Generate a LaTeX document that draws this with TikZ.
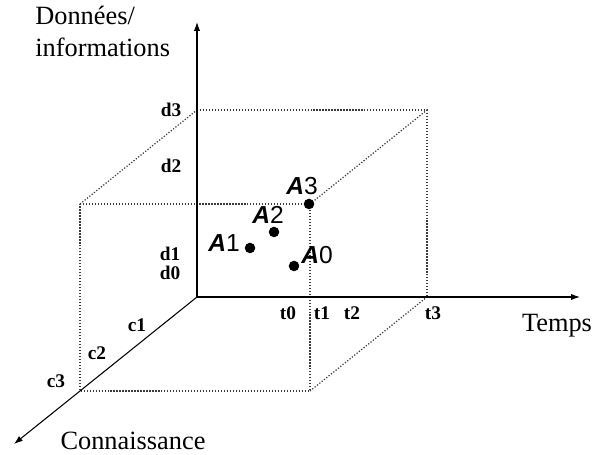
\documentclass[tikz,border=0pt]{standalone}
\usepackage{fontspec}
\setmainfont{Liberation Serif}
\setsansfont{Liberation Sans}
\usepackage{tikz}
\definecolor{edgeGray}{RGB}{60, 60, 60}

\tikzset{
  axis/.style={line width=0.6pt, -{Latex[length=5pt,width=3.5pt]}},
  hidden/.style={edgeGray, line width=0.7pt, densely dotted},
  tick/.style={font=\fontsize{11}{13}\selectfont\bfseries, inner sep=0pt},
  axlabel/.style={font=\fontsize{15}{17}\selectfont, inner sep=0pt},
  pt/.style={circle, fill, inner sep=0pt, minimum size=6pt},
  ptlabel/.style={font=\fontsize{14}{16}\selectfont\sffamily, inner sep=0pt}
}
\usetikzlibrary{arrows.meta}

\newcommand{\Alab}[1]{{\bfseries\itshape A}#1}

\begin{document}
\begin{tikzpicture}[x=0.02cm, y=-0.02cm]
      \useasboundingbox (0,0) rectangle (594,455);

      \coordinate (O) at (197,297);
      \coordinate (ytop) at (197,22);
      \coordinate (xend) at (580,297);
      \coordinate (zend) at (14,444);

      \coordinate (bt3) at (427,297);
      \coordinate (btr) at (427,110);
      \coordinate (bd3) at (197,110);
      \coordinate (ftl) at (80,204);
      \coordinate (ftr) at (310,204);
      \coordinate (fbr) at (310,391);
      \coordinate (fbl) at (80,391);

      \draw[hidden] (bd3) -- (btr) -- (bt3);
      \draw[hidden] (ftl) -- (ftr) -- (fbr) -- (fbl) -- cycle;
      \draw[hidden] (ftl) -- (bd3);
      \draw[hidden] (ftr) -- (btr);
      \draw[hidden] (fbr) -- (bt3);

      \draw[axis] (O) -- (ytop);
      \draw[axis] (O) -- (xend);
      \draw[axis] (O) -- (zend);

      \node[pt] (a3) at (309,204) {};
      \node[pt] (a2) at (274,232) {};
      \node[pt] (a1) at (250,248) {};
      \node[pt] (a0) at (294,266) {};

      \node[ptlabel] (la3) at (302,186) {\Alab{3}};
      \node[ptlabel] (la2) at (268,215) {\Alab{2}};
      \node[ptlabel] (la1) at (224,243) {\Alab{1}};
      \node[ptlabel] (la0) at (317,255) {\Alab{0}};

      \node[tick] (d3) at (171,110) {d3};
      \node[tick] (d2) at (171,166) {d2};
      \node[tick] (d1) at (170,254) {d1};
      \node[tick] (d0) at (170,273) {d0};
      \node[tick] (t0) at (288,313) {t0};
      \node[tick] (t1) at (322,313) {t1};
      \node[tick] (t2) at (352,313) {t2};
      \node[tick] (t3) at (433,313) {t3};
      \node[tick] (c1) at (137,325) {c1};
      \node[tick] (c2) at (97,353) {c2};
      \node[tick] (c3) at (56,381) {c3};

      \node[axlabel, anchor=north west, align=left] (ylab) at (35,6) {Données/\\[1pt]informations};
      \node[axlabel] (xlab) at (557,326) {Temps};
      \node[axlabel] (zlab) at (133,441) {Connaissance};
    \end{tikzpicture}
\end{document}
